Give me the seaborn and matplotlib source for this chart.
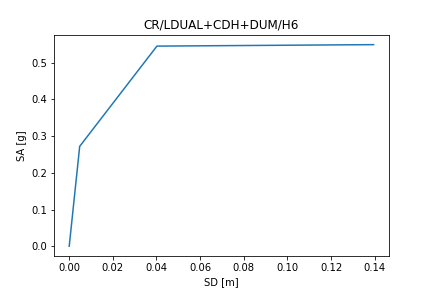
import matplotlib
matplotlib.use("Agg")
import matplotlib.pyplot as plt
import seaborn as sns
import pandas as pd

sd = [0.0, 0.0048, 0.0402, 0.1395]
sa = [0.0, 0.272, 0.545, 0.549]

df = pd.DataFrame({"SD": sd, "SA": sa})

fig, ax = plt.subplots(figsize=(6, 4), dpi=72)
sns.lineplot(data=df, x="SD", y="SA", ax=ax, sort=False, estimator=None, color="#1f77b4")
ax.set_title("CR/LDUAL+CDH+DUM/H6")
ax.set_xlabel("SD [m]")
ax.set_ylabel("SA [g]")
fig.savefig("out.png", dpi=72)
